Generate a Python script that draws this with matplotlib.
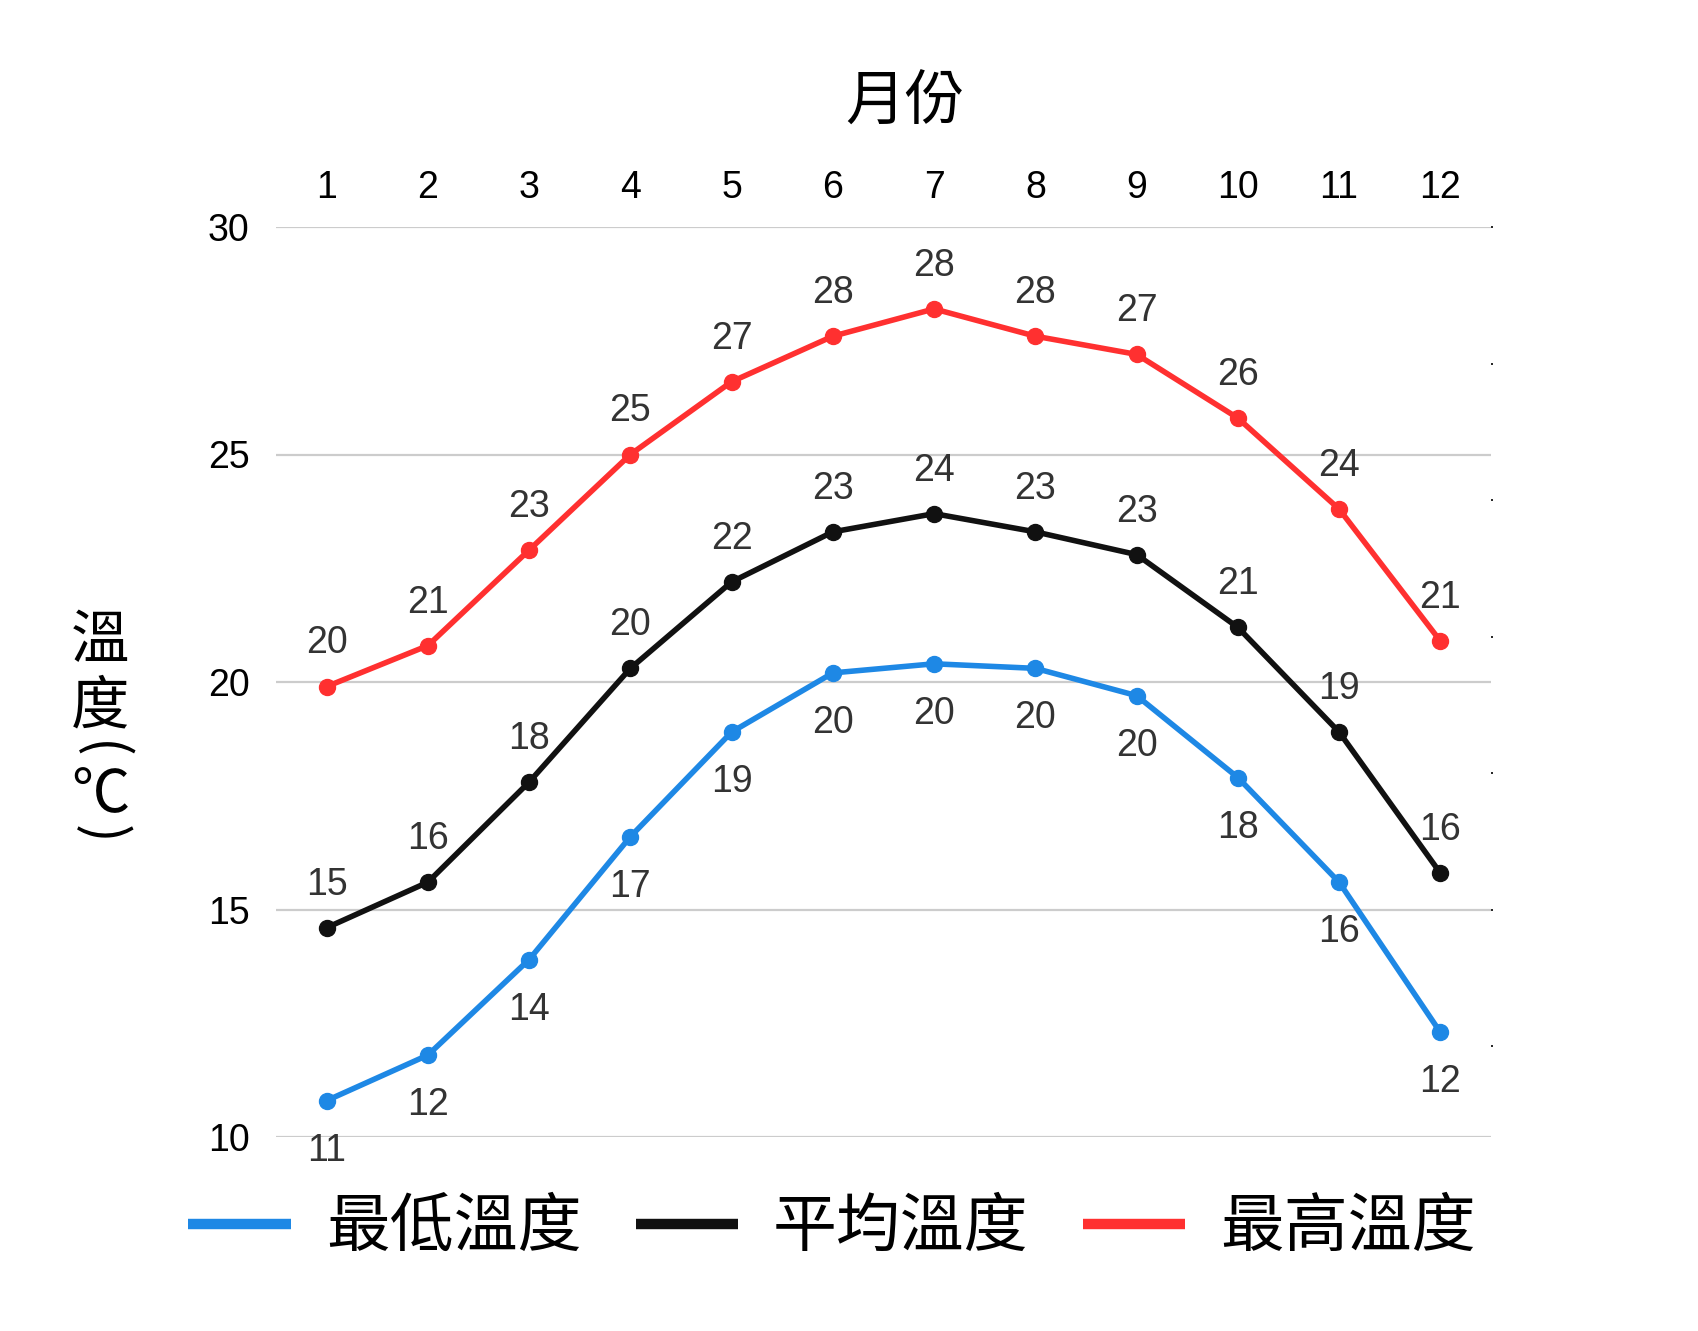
import numpy as np
import matplotlib.pyplot as plt

plt.rcParams['font.family'] = ['Liberation Sans', 'Noto Sans CJK TC', 'DejaVu Sans']

months = list(range(1, 13))
t_min = [10.8, 11.8, 13.9, 16.6, 18.9, 20.2, 20.4, 20.3, 19.7, 17.9, 15.6, 12.3]
t_avg = [14.6, 15.6, 17.8, 20.3, 22.2, 23.3, 23.7, 23.3, 22.8, 21.2, 18.9, 15.8]
t_max = [19.9, 20.8, 22.9, 25.0, 26.6, 27.6, 28.2, 27.6, 27.2, 25.8, 23.8, 20.9]
names = ['最低溫度', '平均溫度', '最高溫度']
colors = ['#1e88e5', '#111111', '#ff3030']

W, H = 1698, 1331
fig = plt.figure(figsize=(W / 100, H / 100), dpi=100)
# axes box in pixels: left 276, right 1491, top 227, bottom 1137
ax = fig.add_axes([276 / W, 1 - 1137 / H, (1491 - 276) / W, (1137 - 227) / H])

series = [t_min, t_avg, t_max]
lines = []
for vals, name, c in zip(series, names, colors):
    ln, = ax.plot(months, vals, color=c, lw=4, marker='o', ms=11.5, label=name,
                  solid_capstyle='round', zorder=3)
    lines.append(ln)
    below = vals is t_min
    for m, v in zip(months, vals):
        ax.annotate(f'{v:.0f}', (m, v), xytext=(0, -36 if below else 31),
                    textcoords='offset points', ha='center', va='center',
                    fontsize=27, color='#333333', zorder=4)

ax.set_xlim(0.5, 12.5)
ax.set_ylim(10, 30)
ax.set_xticks(months)
ax.set_yticks([10, 15, 20, 25, 30])
ax.xaxis.tick_top()
ax.tick_params(axis='x', length=0, pad=15, labelsize=27)
ax.tick_params(axis='y', length=0, pad=19, labelsize=27)
ax.grid(axis='y', color='#cccccc', lw=1.6)
ax.set_axisbelow(True)
for s in ax.spines.values():
    s.set_visible(False)

# tiny ticks on the right side
ax2 = ax.twinx()
ax2.set_ylim(10, 30)
ax2.set_yticks(np.arange(12, 31, 3))
ax2.tick_params(axis='y', length=1.5, width=1.2, labelright=False)
for s in ax2.spines.values():
    s.set_visible(False)

cjk = ['Noto Sans CJK TC', 'DejaVu Sans']
ax.text((905 - 276) / (1491 - 276), 1 + (227 - 103) / (1137 - 227), '月份',
        transform=ax.transAxes, ha='center', va='center', fontsize=43,
        family=cjk, weight='light')

# vertical y label, top to bottom
ylab = [('溫', 642, 42, 0), ('度', 707, 42, 0), ('(', 750, 40, -90),
        ('℃', 796, 42, 0), (')', 834, 40, -90)]
for ch, ypx, fs, rot in ylab:
    fig.text(100 / W, 1 - ypx / H, ch, ha='center', va='center', fontsize=fs,
             family=cjk, weight='light', rotation=rot)

leg = fig.legend(handles=lines, labels=names, loc='center', ncol=3,
                 bbox_to_anchor=(832 / W, 1 - 1228 / H), frameon=False,
                 prop={'family': cjk, 'size': 46, 'weight': 'light'},
                 handlelength=1.6, handletextpad=0.55, columnspacing=0.85)
for h in leg.legend_handles:
    h.set_linewidth(7.5)
    h.set_marker('')
    h.set_solid_capstyle('butt')

fig.savefig('out.png', dpi=100, facecolor='white')
